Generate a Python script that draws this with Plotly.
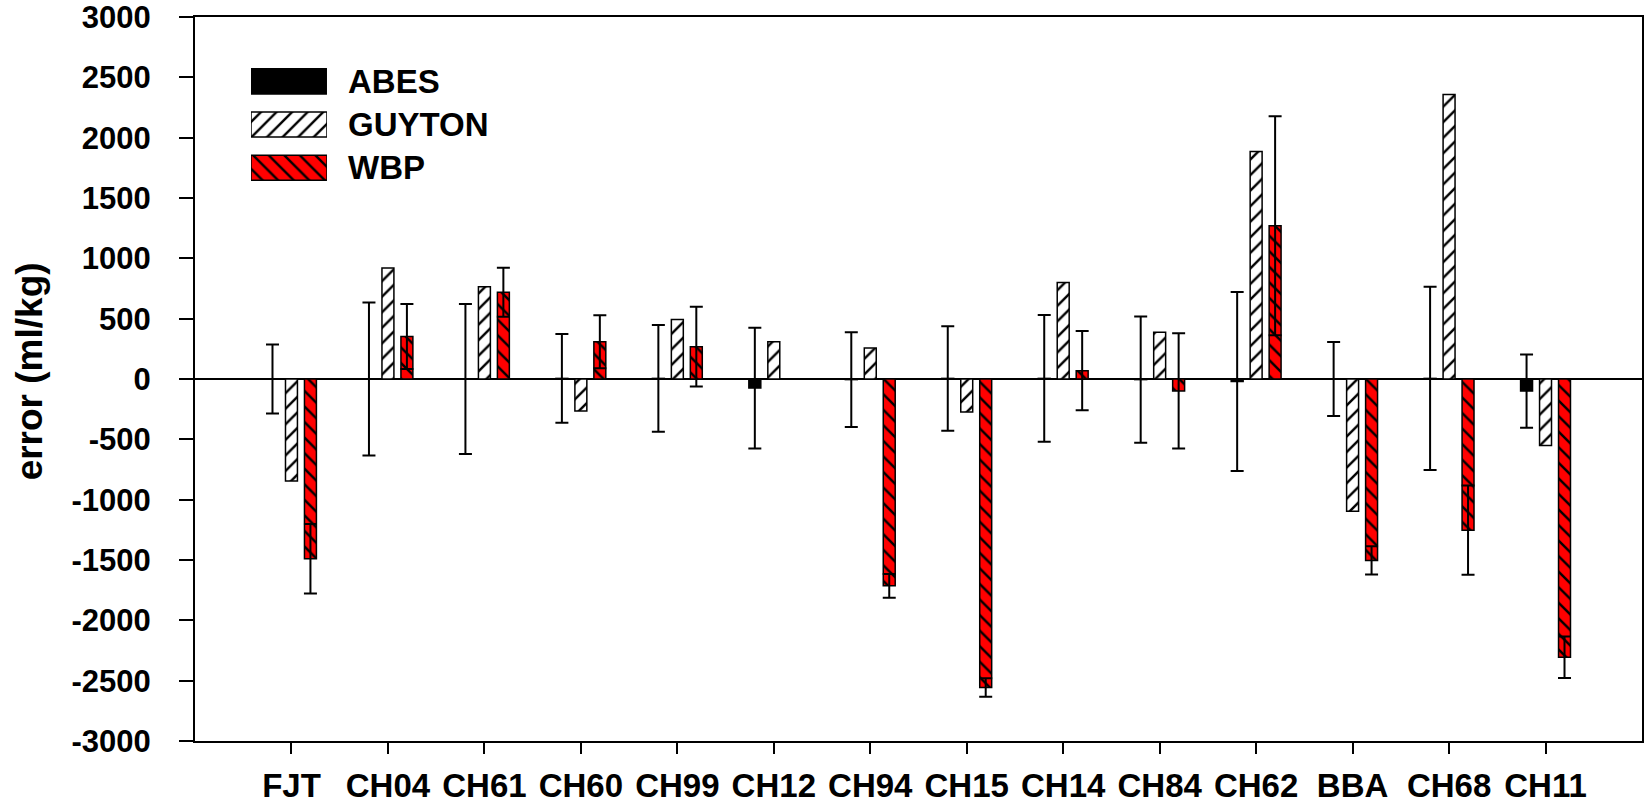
import plotly.graph_objects as go

# Subjects on the x axis
subjects = ["FJT", "CH04", "CH61", "CH60", "CH99", "CH12", "CH94",
            "CH15", "CH14", "CH84", "CH62", "BBA", "CH68", "CH11"]

# Mean error (ml/kg) per method, with the spread drawn as error bars
abes = [0, 0, 0, 5, 5, -75, -5, 5, 5, -5, -20, 0, 5, -100]
abes_err = [286, 633, 622, 368, 443, 500, 393, 433, 526, 523, 742, 307, 759, 303]

guyton = [-845, 919, 764, -265, 494, 309, 257, -273, 800, 387, 1885, -1096, 2357, -552]

wbp = [-1490, 352, 718, 309, 268, None, -1714, -2556, 69, -99, 1270, -1504, -1253, -2305]
wbp_err = [288, 270, 203, 220, 330, None, 98, 77, 328, 478, 907, 117, 370, 172]

series_names = ["ABES", "GUYTON", "WBP"]
y_ticks = list(range(-3000, 3001, 500))
y_ticktext = [str(v) for v in y_ticks]  # plain hyphen for negatives

FONT = "Liberation Sans"
LINE = dict(color="black", width=1.5)
ERR = dict(color="black", thickness=2, width=6.5)

guyton_pattern = dict(shape="/", fgcolor="black", bgcolor="white",
                      size=11, solidity=0.22, fillmode="replace")
wbp_pattern = dict(shape="\\", fgcolor="black", bgcolor="#ff0000",
                   size=11, solidity=0.22, fillmode="replace")

fig = go.Figure()

fig.add_trace(go.Bar(
    name=series_names[0], x=subjects, y=abes,
    marker=dict(color="black", line=LINE),
    error_y=dict(type="data", array=abes_err, visible=True, **ERR),
    showlegend=False,
))
fig.add_trace(go.Bar(
    name=series_names[1], x=subjects, y=guyton,
    marker=dict(color="white", line=LINE, pattern=guyton_pattern),
    showlegend=False,
))
fig.add_trace(go.Bar(
    name=series_names[2], x=subjects, y=wbp,
    marker=dict(color="#ff0000", line=LINE, pattern=wbp_pattern),
    error_y=dict(type="data", array=wbp_err, visible=True, **ERR),
    showlegend=False,
))

# Key: large patterned swatches drawn in a small inset axis
key_rows = [2, 1, 0]
key_styles = [
    dict(color="black", line=LINE),
    dict(color="white", line=LINE, pattern=guyton_pattern),
    dict(color="#ff0000", line=LINE, pattern=wbp_pattern),
]
for name, row, style in zip(series_names, key_rows, key_styles):
    fig.add_trace(go.Bar(
        x=[1], y=[row], orientation="h", width=0.58,
        marker=style, xaxis="x2", yaxis="y2",
        showlegend=False, hoverinfo="skip", name=name,
    ))
    fig.add_annotation(
        text=name, xref="paper", yref="y2", x=0.1042, y=row,
        xanchor="left", yanchor="middle", showarrow=False,
        font=dict(family=FONT, size=33, color="black", weight="bold"),
    )

fig.add_annotation(
    text="error (ml/kg)", xref="paper", yref="paper",
    x=-0.1147, y=0.5106, textangle=-90,
    xanchor="center", yanchor="middle", showarrow=False,
    font=dict(family=FONT, size=37, color="black", weight="bold"),
)

fig.update_layout(
    width=1648, height=805,
    margin=dict(l=195, r=6, t=17, b=64, autoexpand=False),
    paper_bgcolor="white", plot_bgcolor="white",
    barmode="group", bargap=0.41, bargroupgap=0.37,
    xaxis=dict(
        range=[-1, 14], showgrid=False, zeroline=False, automargin=False,
        showline=True, linecolor="black", linewidth=2, mirror=True,
        ticks="outside", ticklen=11, tickwidth=2, tickcolor="black",
        ticklabelstandoff=3, ticklabeloverflow="allow",
        tickfont=dict(family=FONT, size=33, color="black", weight="bold"),
    ),
    yaxis=dict(
        range=[-3000, 3000], tickvals=y_ticks, ticktext=y_ticktext,
        showgrid=False, automargin=False,
        zeroline=True, zerolinecolor="black", zerolinewidth=2,
        showline=True, linecolor="black", linewidth=2, mirror=True,
        ticks="outside", ticklen=14, tickwidth=2, tickcolor="black",
        ticklabelstandoff=22, ticklabeloverflow="allow",
        tickfont=dict(family=FONT, size=31, color="black", weight="bold"),
    ),
    xaxis2=dict(domain=[0.0387, 0.0912], range=[0, 1], visible=False,
                anchor="y2", fixedrange=True),
    yaxis2=dict(domain=[0.7619, 0.9409], range=[-0.5, 2.5], visible=False,
                anchor="x2", fixedrange=True),
)

fig.write_html("out.html")
